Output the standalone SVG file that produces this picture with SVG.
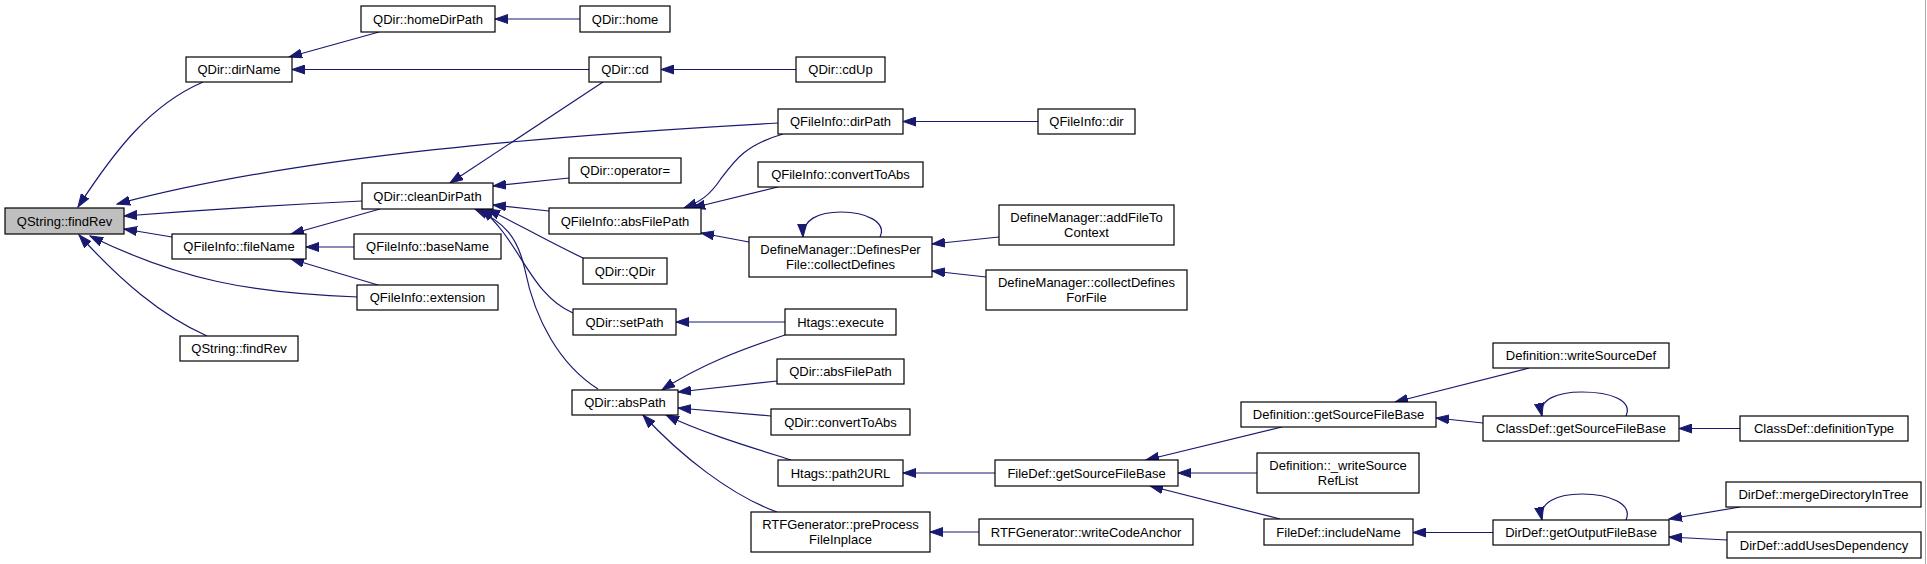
<svg xmlns="http://www.w3.org/2000/svg" width="1927" height="564" viewBox="0 0 1927 564">
<style>
.n rect{fill:#fff;stroke:#000;stroke-width:1.2}
.root rect{fill:#bfbfbf}
.n text{font-family:"Liberation Sans",Arial,sans-serif;font-size:13px;fill:#000;text-anchor:middle}
.e path{fill:none;stroke:#191970;stroke-width:1.2;marker-end:url(#ah)}
</style>
<defs>
<marker id="ah" markerUnits="userSpaceOnUse" viewBox="0 -5 14 10" markerWidth="14" markerHeight="10" refX="13" refY="0" orient="auto">
<path d="M0,-4.5 L13,0 L0,4.5 z" fill="#191970" stroke="#191970" stroke-width="1"/>
</marker>
</defs>
<rect x="0" y="0" width="1927" height="564" fill="#fff"/>
<line x1="1925.5" y1="0" x2="1925.5" y2="564" stroke="#a8a8a8" stroke-width="1"/>
<g id="connectors" class="e">
<path d="M203,82 C150,105 115,150 78,207"/>
<path d="M379,32 L289,57"/>
<path d="M589,69.5 L292,69.5"/>
<path d="M580,19 L495,19"/>
<path d="M796,69.5 L661,69.5"/>
<path d="M603,82 L450,183"/>
<path d="M778,123 C560,135 300,155 117,204"/>
<path d="M362,201 C300,204 200,210 124,216"/>
<path d="M172,237 L124,229"/>
<path d="M358,297 C250,293 180,280 90,236"/>
<path d="M207,336 C160,315 120,280 79,235"/>
<path d="M380,209 L291,234"/>
<path d="M354,247 L306,247"/>
<path d="M378,285 L291,259"/>
<path d="M569,178 L493,186"/>
<path d="M549,211 L493,205"/>
<path d="M583,258 C545,240 520,225 487,209"/>
<path d="M573,313 C530,295 520,240 481,209"/>
<path d="M598,389 C560,365 535,320 525,270 C518,238 505,222 475,209"/>
<path d="M783,134 C745,145 735,160 720,180 C710,195 700,202 684,208"/>
<path d="M778,187 L692,208"/>
<path d="M749,242 L701,233"/>
<path d="M1038,121.5 L903,121.5"/>
<path d="M999,237 L932,244"/>
<path d="M986,277 L932,271"/>
<path d="M880,237 C887,222 866,212 841,212 C818,212 802,220 803,237"/>
<path d="M785,322 L676,322"/>
<path d="M785,335 C740,350 700,365 662,390"/>
<path d="M777,381 L678,392"/>
<path d="M771,416 L678,408"/>
<path d="M791,460 C750,447 700,432 666,415"/>
<path d="M777,512 C730,495 680,455 643,415"/>
<path d="M995,473 L903,473"/>
<path d="M979,532 L930,532"/>
<path d="M1282,427 L1146,460"/>
<path d="M1257,473 L1178,473"/>
<path d="M1280,519 L1150,486"/>
<path d="M1529,368 L1395,402"/>
<path d="M1483,423 L1436,418"/>
<path d="M1626,416 C1633,400 1610,392 1582,392 C1558,392 1538,399 1542,416"/>
<path d="M1740,428.5 L1679,428.5"/>
<path d="M1493,532.5 L1413,532.5"/>
<path d="M1626,520 C1633,504 1610,494 1582,494 C1558,494 1538,502 1542,520"/>
<path d="M1740,507 L1669,519"/>
<path d="M1727,540 L1669,537"/>
</g>
<g id="n_findRev" class="n root"><rect x="5" y="208" width="119" height="26"/><text x="64.5" y="225.5">QString::findRev</text></g>
<g id="n_dirName" class="n"><rect x="186" y="57" width="106" height="25"/><text x="239" y="74">QDir::dirName</text></g>
<g id="n_homeDirPath" class="n"><rect x="361" y="6" width="134" height="26"/><text x="428" y="23.5">QDir::homeDirPath</text></g>
<g id="n_home" class="n"><rect x="580" y="6" width="90" height="26"/><text x="625" y="23.5">QDir::home</text></g>
<g id="n_cd" class="n"><rect x="589" y="57" width="72" height="25"/><text x="625" y="74">QDir::cd</text></g>
<g id="n_cdUp" class="n"><rect x="796" y="57" width="89" height="25"/><text x="840.5" y="74">QDir::cdUp</text></g>
<g id="n_dirPath" class="n"><rect x="778" y="109" width="125" height="25"/><text x="840.5" y="126">QFileInfo::dirPath</text></g>
<g id="n_dir" class="n"><rect x="1038" y="109" width="97" height="25"/><text x="1086.5" y="126">QFileInfo::dir</text></g>
<g id="n_cleanDirPath" class="n"><rect x="362" y="183" width="131" height="26"/><text x="427.5" y="200.5">QDir::cleanDirPath</text></g>
<g id="n_operatorEq" class="n"><rect x="569" y="158" width="112" height="25"/><text x="625" y="175">QDir::operator=</text></g>
<g id="n_fiConvertToAbs" class="n"><rect x="758" y="162" width="165" height="25"/><text x="840.5" y="179">QFileInfo::convertToAbs</text></g>
<g id="n_fiAbsFilePath" class="n"><rect x="549" y="208" width="152" height="26"/><text x="625" y="225.5">QFileInfo::absFilePath</text></g>
<g id="n_collectDefines" class="n"><rect x="749" y="237" width="183" height="40"/><text x="840.5" y="254">DefineManager::DefinesPer</text><text x="840.5" y="268.5">File::collectDefines</text></g>
<g id="n_addFileToContext" class="n"><rect x="999" y="205" width="175" height="40"/><text x="1086.5" y="222">DefineManager::addFileTo</text><text x="1086.5" y="236.5">Context</text></g>
<g id="n_collectDefinesForFile" class="n"><rect x="986" y="270" width="201" height="40"/><text x="1086.5" y="287">DefineManager::collectDefines</text><text x="1086.5" y="301.5">ForFile</text></g>
<g id="n_fileName" class="n"><rect x="172" y="234" width="134" height="25"/><text x="239" y="251">QFileInfo::fileName</text></g>
<g id="n_baseName" class="n"><rect x="354" y="234" width="147" height="25"/><text x="427.5" y="251">QFileInfo::baseName</text></g>
<g id="n_extension" class="n"><rect x="357" y="285" width="141" height="25"/><text x="427.5" y="302">QFileInfo::extension</text></g>
<g id="n_findRev2" class="n"><rect x="180" y="336" width="118" height="25"/><text x="239" y="353">QString::findRev</text></g>
<g id="n_QDir" class="n"><rect x="583" y="258" width="84" height="26"/><text x="625" y="275.5">QDir::QDir</text></g>
<g id="n_setPath" class="n"><rect x="573" y="309" width="103" height="26"/><text x="624.5" y="326.5">QDir::setPath</text></g>
<g id="n_execute" class="n"><rect x="785" y="309" width="111" height="26"/><text x="840.5" y="326.5">Htags::execute</text></g>
<g id="n_absPath" class="n"><rect x="572" y="390" width="106" height="25"/><text x="625" y="407">QDir::absPath</text></g>
<g id="n_dAbsFilePath" class="n"><rect x="777" y="359" width="127" height="25"/><text x="840.5" y="376">QDir::absFilePath</text></g>
<g id="n_dConvertToAbs" class="n"><rect x="771" y="409" width="139" height="26"/><text x="840.5" y="426.5">QDir::convertToAbs</text></g>
<g id="n_path2URL" class="n"><rect x="778" y="460" width="125" height="26"/><text x="840.5" y="477.5">Htags::path2URL</text></g>
<g id="n_preProcess" class="n"><rect x="751" y="512" width="179" height="40"/><text x="840.5" y="529">RTFGenerator::preProcess</text><text x="840.5" y="543.5">FileInplace</text></g>
<g id="n_writeCodeAnchor" class="n"><rect x="979" y="519" width="214" height="26"/><text x="1086" y="536.5">RTFGenerator::writeCodeAnchor</text></g>
<g id="n_fdGetSourceFileBase" class="n"><rect x="995" y="460" width="183" height="26"/><text x="1086.5" y="477.5">FileDef::getSourceFileBase</text></g>
<g id="n_defGetSourceFileBase" class="n"><rect x="1241" y="402" width="195" height="25"/><text x="1338.5" y="419">Definition::getSourceFileBase</text></g>
<g id="n_writeSourceRefList" class="n"><rect x="1257" y="453" width="162" height="40"/><text x="1338" y="470">Definition::_writeSource</text><text x="1338" y="484.5">RefList</text></g>
<g id="n_includeName" class="n"><rect x="1264" y="519" width="149" height="26"/><text x="1338.5" y="536.5">FileDef::includeName</text></g>
<g id="n_writeSourceDef" class="n"><rect x="1493" y="343" width="176" height="25"/><text x="1581" y="360">Definition::writeSourceDef</text></g>
<g id="n_cdGetSourceFileBase" class="n"><rect x="1483" y="416" width="196" height="25"/><text x="1581" y="433">ClassDef::getSourceFileBase</text></g>
<g id="n_definitionType" class="n"><rect x="1740" y="416" width="168" height="25"/><text x="1824" y="433">ClassDef::definitionType</text></g>
<g id="n_getOutputFileBase" class="n"><rect x="1493" y="520" width="176" height="25"/><text x="1581" y="537">DirDef::getOutputFileBase</text></g>
<g id="n_mergeDirectoryInTree" class="n"><rect x="1726" y="482" width="195" height="25"/><text x="1823.5" y="499">DirDef::mergeDirectoryInTree</text></g>
<g id="n_addUsesDependency" class="n"><rect x="1727" y="532" width="194" height="26"/><text x="1824" y="549.5">DirDef::addUsesDependency</text></g>
</svg>
